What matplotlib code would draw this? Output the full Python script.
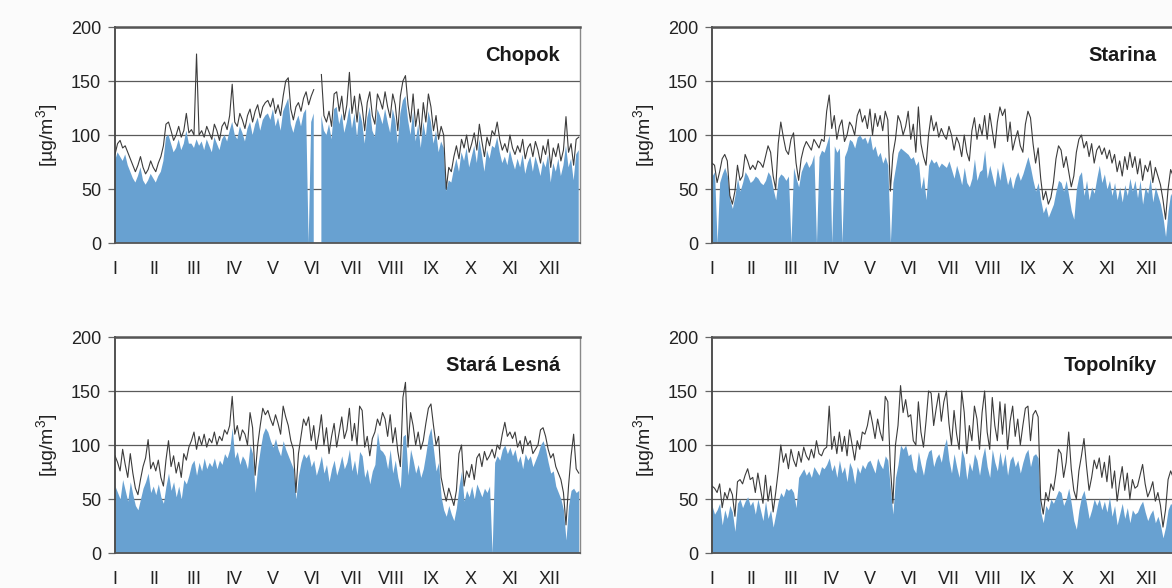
import numpy as np
import matplotlib.pyplot as plt

nan = np.nan

# denne hodnoty, odcitane kazdy druhy den (0, 2, ..., 364)
days = np.arange(0, 365, 2)
months = ['I', 'II', 'III', 'IV', 'V', 'VI', 'VII', 'VIII', 'IX', 'X', 'XI', 'XII']

# Chopok
chopok_max = [
    82, 92, 95, 88, 90, 84, 78, 72, 66, 72, 80, 70, 64, 68, 76, 70,
    66, 74, 80, 90, 110, 112, 104, 95, 100, 108, 98, 104, 120, 102,
    105, 100, 175, 100, 104, 98, 108, 102, 96, 110, 104, 95, 108, 112, 105,
    118, 147, 112, 108, 120, 114, 106, 118, 124, 112, 122, 128, 116, 126, 130,
    132, 126, 134, 120, 128, 118, 136, 150, 153, 124, 114, 126, 130, 122, 134, 140,
    128, 136, 142, nan, nan, 156, 118, 112, 122, 108, 138, 140, 122, 136, 114,
    128, 158, 120, 136, 112, 138, 126, 104, 130, 140, 118, 110, 138, 132, 124,
    140, 126, 116, 138, 128, 104, 136, 150, 155, 128, 112, 138, 108, 124, 100, 130,
    112, 138, 126, 104, 118, 96, 108, 100, 50, 70, 66, 80, 90, 78, 96,
    88, 100, 84, 92, 102, 86, 110, 94, 80, 98, 90, 104, 100, 112, 96,
    86, 92, 84, 100, 88, 82, 90, 84, 96, 78, 88, 92, 80, 94, 86,
    74, 90, 82, 96, 70, 88, 80, 92, 76, 86, 117, 84, 92, 72, 96, 98,
]
chopok_avg = [
    76, 84, 80, 76, 82, 72, 66, 60, 56, 62, 70, 58, 54, 58, 64, 60,
    56, 62, 66, 76, 98, 100, 92, 84, 88, 96, 86, 92, 104, 92,
    92, 88, 96, 90, 94, 86, 96, 90, 84, 98, 92, 86, 96, 100, 94,
    104, 112, 100, 96, 108, 102, 94, 106, 112, 100, 110, 116, 104, 114, 118,
    120, 114, 124, 108, 116, 104, 122, 128, 134, 110, 102, 112, 118, 108, 120, 124,
    0, 112, 120, nan, nan, 118, 104, 100, 110, 96, 124, 126, 110, 120, 102,
    112, 126, 106, 120, 98, 122, 112, 92, 116, 126, 104, 98, 124, 118, 110,
    124, 112, 102, 124, 114, 92, 120, 132, 136, 114, 100, 122, 94, 110, 88, 112,
    98, 122, 112, 92, 104, 84, 94, 88, 48, 58, 56, 68, 78, 66, 84,
    76, 88, 70, 80, 90, 74, 96, 82, 66, 86, 78, 90, 88, 98, 84,
    74, 80, 72, 86, 76, 68, 78, 70, 82, 64, 74, 80, 66, 80, 72,
    62, 76, 70, 82, 56, 74, 66, 78, 62, 72, 90, 70, 78, 58, 82, 86,
]

# Starina
starina_max = [
    74, 72, 56, 66, 78, 82, 76, 44, 36, 48, 72, 58, 62, 82, 76, 68,
    72, 68, 76, 74, 70, 80, 90, 84, 62, 50, 92, 112, 98, 86,
    82, 96, 102, 74, 58, 78, 88, 94, 90, 86, 96, 92, 88, 96, 94,
    122, 137, 106, 118, 96, 108, 114, 94, 100, 112, 108, 100, 118, 124, 112,
    118, 106, 124, 100, 120, 108, 118, 104, 122, 114, 48, 82, 96, 118, 112, 100,
    108, 122, 96, 110, 84, 126, 92, 80, 72, 100, 118, 104, 112, 98, 106,
    100, 96, 108, 100, 86, 98, 92, 80, 100, 84, 76, 104, 116, 96, 110,
    100, 118, 96, 120, 104, 88, 112, 126, 118, 124, 94, 112, 86, 96, 104, 90,
    84, 110, 122, 116, 92, 74, 88, 60, 40, 48, 36, 42, 56, 78, 90,
    86, 70, 80, 66, 52, 62, 84, 96, 100, 88, 94, 80, 92, 74, 86,
    90, 82, 88, 78, 86, 74, 82, 66, 76, 62, 80, 68, 84, 70, 80,
    64, 78, 58, 72, 66, 76, 56, 70, 62, 54, 40, 22, 50, 68, 62, 66,
]
starina_avg = [
    62, 66, 0, 56, 64, 70, 62, 40, 32, 44, 60, 48, 56, 66, 62, 56,
    58, 62, 60, 56, 54, 58, 66, 62, 50, 40, 60, 64, 62, 58,
    62, 0, 70, 60, 52, 66, 72, 76, 70, 74, 82, 0, 80, 86, 84,
    92, 100, 0, 90, 84, 88, 0, 80, 86, 96, 94, 88, 98, 100, 96,
    98, 92, 100, 86, 90, 80, 84, 74, 80, 72, 0, 56, 70, 84, 88, 86,
    84, 82, 78, 80, 72, 76, 50, 62, 40, 72, 78, 74, 76, 70, 74,
    72, 70, 76, 68, 60, 72, 64, 54, 70, 56, 52, 60, 78, 58, 66,
    68, 86, 60, 72, 62, 52, 70, 58, 76, 66, 54, 62, 50, 60, 66, 58,
    64, 72, 80, 70, 58, 48, 56, 40, 28, 34, 24, 30, 36, 48, 58,
    56, 48, 58, 44, 30, 22, 50, 62, 66, 44, 58, 40, 52, 46, 60,
    72, 56, 64, 50, 58, 44, 56, 40, 52, 38, 54, 44, 60, 48, 58,
    42, 58, 36, 52, 46, 60, 38, 52, 44, 36, 24, 6, 30, 46, 40, 44,
]

# Stará Lesná
lesna_max = [
    90, 84, 76, 96, 82, 70, 92, 74, 60, 54, 68, 80, 88, 105, 78, 84,
    76, 86, 70, 62, 86, 104, 80, 90, 74, 84, 70, 92, 86, 98,
    104, 112, 96, 108, 100, 110, 98, 106, 102, 112, 100, 108, 104, 114, 110,
    118, 145, 110, 118, 104, 114, 110, 100, 130, 116, 72, 100, 118, 134, 128,
    132, 124, 118, 128, 120, 110, 136, 126, 118, 104, 96, 56, 92, 108, 124, 118,
    126, 104, 118, 96, 110, 128, 100, 116, 92, 108, 120, 98, 112, 126, 106,
    114, 134, 104, 120, 100, 136, 132, 98, 108, 90, 106, 112, 124, 118, 130,
    124, 108, 128, 102, 116, 94, 80, 144, 158, 98, 130, 118, 100, 112, 96, 104,
    120, 134, 138, 118, 100, 108, 70, 58, 48, 60, 52, 44, 58, 92, 100,
    62, 76, 70, 82, 68, 88, 92, 80, 94, 86, 90, 96, 88, 100, 96,
    110, 121, 108, 112, 106, 112, 98, 104, 92, 108, 100, 104, 92, 96, 100,
    114, 116, 108, 96, 88, 92, 80, 74, 68, 56, 26, 62, 90, 110, 78, 74,
]
lesna_avg = [
    62, 56, 50, 68, 58, 48, 66, 54, 44, 40, 50, 60, 66, 74, 56, 62,
    54, 64, 52, 46, 62, 74, 58, 66, 52, 62, 50, 68, 64, 72,
    82, 86, 72, 84, 76, 88, 78, 84, 80, 88, 78, 86, 82, 92, 88,
    96, 116, 88, 94, 82, 90, 86, 78, 100, 92, 56, 80, 96, 110, 116,
    112, 104, 98, 106, 96, 90, 104, 96, 90, 84, 78, 50, 72, 84, 92, 88,
    92, 80, 86, 72, 80, 90, 74, 82, 66, 78, 86, 72, 80, 90, 78,
    84, 96, 76, 86, 72, 94, 90, 70, 78, 64, 76, 82, 112, 96, 94,
    90, 78, 96, 74, 86, 70, 60, 108, 110, 72, 96, 86, 74, 82, 70, 78,
    92, 108, 116, 96, 76, 84, 52, 40, 34, 44, 36, 30, 42, 62, 76,
    48, 58, 52, 62, 50, 64, 58, 52, 60, 56, 62, 0, 84, 90, 86,
    96, 100, 92, 98, 90, 96, 84, 90, 78, 92, 86, 90, 80, 86, 92,
    100, 104, 96, 84, 74, 76, 62, 56, 50, 40, 12, 44, 58, 60, 56, 58,
]

# Topoľníky
topol_max = [
    62, 60, 56, 64, 42, 56, 50, 60, 54, 34, 66, 68, 64, 72, 78, 68,
    70, 56, 74, 60, 46, 72, 48, 62, 38, 56, 76, 100, 84, 92,
    78, 96, 86, 80, 94, 84, 98, 90, 86, 96, 88, 104, 92, 90, 96,
    98, 136, 96, 108, 92, 112, 94, 108, 90, 114, 100, 86, 104, 96, 112,
    110, 118, 132, 120, 106, 124, 112, 104, 145, 140, 80, 46, 100, 118, 155, 130,
    142, 126, 128, 104, 100, 140, 112, 98, 122, 150, 148, 118, 134, 148, 122,
    140, 150, 120, 100, 132, 110, 96, 150, 130, 92, 118, 104, 136, 124, 96,
    130, 150, 112, 96, 144, 118, 104, 140, 110, 138, 96, 122, 136, 108, 124, 100,
    118, 134, 136, 104, 128, 132, 126, 50, 36, 56, 48, 64, 58, 74, 96,
    92, 70, 84, 112, 78, 58, 50, 76, 90, 106, 80, 58, 70, 86, 78,
    88, 70, 84, 66, 90, 60, 76, 48, 66, 80, 58, 74, 50, 68, 60,
    62, 72, 82, 64, 52, 58, 66, 48, 56, 44, 24, 40, 68, 76, 70, 64,
]
topol_avg = [
    44, 36, 40, 46, 26, 40, 32, 44, 38, 20, 46, 50, 42, 48, 52, 44,
    48, 36, 50, 40, 30, 48, 32, 40, 24, 36, 48, 56, 52, 60,
    58, 60, 56, 42, 70, 74, 78, 72, 76, 70, 80, 76, 72, 80, 78,
    82, 88, 76, 82, 70, 86, 74, 80, 66, 84, 78, 64, 80, 74, 82,
    78, 84, 86, 80, 74, 88, 82, 78, 90, 86, 60, 36, 70, 82, 100, 96,
    100, 90, 92, 78, 74, 94, 82, 72, 86, 94, 96, 80, 88, 92, 84,
    98, 106, 86, 74, 92, 80, 70, 96, 88, 68, 84, 76, 92, 86, 72,
    88, 98, 80, 70, 96, 84, 76, 94, 80, 92, 72, 86, 90, 80, 86, 74,
    84, 92, 96, 80, 90, 92, 88, 38, 28, 44, 40, 50, 46, 52, 58,
    56, 44, 50, 60, 46, 30, 22, 40, 52, 58, 46, 32, 40, 50, 44,
    50, 40, 48, 38, 52, 34, 44, 26, 36, 46, 32, 42, 28, 40, 36,
    38, 44, 48, 38, 30, 36, 40, 28, 34, 26, 14, 24, 40, 46, 42, 40,
]

stations = [
    ('Chopok', chopok_max, chopok_avg),
    ('Starina', starina_max, starina_avg),
    ('Stará Lesná', lesna_max, lesna_avg),
    ('Topolníky', topol_max, topol_avg),
]

plt.rcParams['font.family'] = ['Liberation Sans', 'DejaVu Sans']
plt.rcParams['mathtext.default'] = 'regular'

fig = plt.figure(figsize=(11.72, 5.88), dpi=100, facecolor='#fbfbfb')

# pravy stlpec presahuje okraj obrazka (v predlohe je orezany)
positions = [
    [115 / 1172, 1 - 243 / 588, 465 / 1172, 216 / 588],
    [712 / 1172, 1 - 243 / 588, 465 / 1172, 216 / 588],
    [115 / 1172, 1 - 553 / 588, 465 / 1172, 216 / 588],
    [712 / 1172, 1 - 553 / 588, 465 / 1172, 216 / 588],
]

for (name, vmax, vavg), pos in zip(stations, positions):
    ax = fig.add_axes(pos)
    ax.set_facecolor('white')
    ax.fill_between(days, np.array(vavg, dtype=float), color='#68a1d1', lw=0, zorder=2)
    ax.plot(days, vmax, color='#3c3c3c', lw=0.8, zorder=3)

    ax.set_xlim(0, 365)
    ax.set_ylim(0, 200)
    ax.set_yticks([0, 50, 100, 150, 200])
    ax.set_xticks(np.arange(12) * 31)
    ax.set_xticklabels(months)
    ax.set_axisbelow(True)
    ax.grid(axis='y', color='#5a5a5a', lw=0.9)

    ax.tick_params(axis='y', length=5, width=0.9, color='#666666', pad=5,
                   labelsize=13, labelcolor='#222222')
    ax.tick_params(axis='x', length=0, pad=13, labelsize=13, labelcolor='#222222')

    ax.spines['top'].set_color('#555555')
    ax.spines['top'].set_linewidth(1.8)
    ax.spines['left'].set_color('#444444')
    ax.spines['left'].set_linewidth(1.3)
    ax.spines['bottom'].set_color('#555555')
    ax.spines['bottom'].set_linewidth(1.3)
    ax.spines['right'].set_color('#888888')
    ax.spines['right'].set_linewidth(1.0)

    ax.set_ylabel('[µg/m$^3$]', fontsize=14, color='#222222')
    ax.yaxis.set_label_coords(-55 / 465, 0.5)

    ax.text(0.957, 0.87, name, transform=ax.transAxes, ha='right', va='center',
            fontsize=14.5, fontweight='bold', color='#1a1a1a', zorder=5)

fig.savefig('out.png', dpi=100, facecolor=fig.get_facecolor())
